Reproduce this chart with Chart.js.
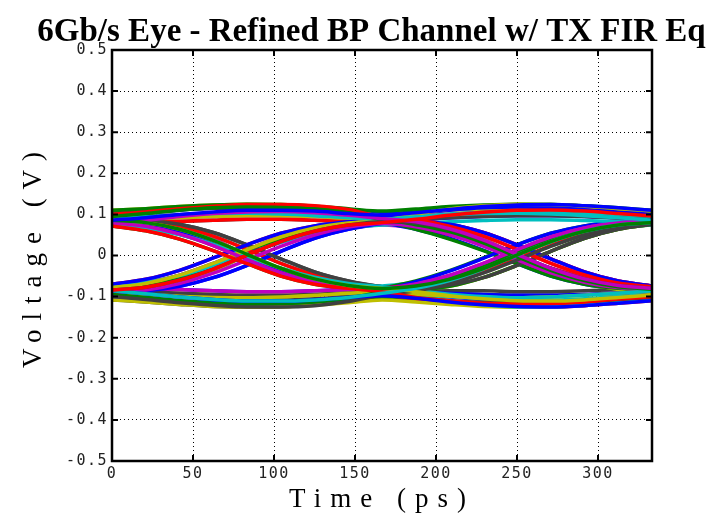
<!DOCTYPE html>
<html>
<head>
<meta charset="utf-8">
<script src="https://cdn.jsdelivr.net/npm/chart.js"></script>
<style>
  html, body { margin: 0; padding: 0; background: #fff; }
</style>
</head>
<body>
<canvas id="eye" width="712" height="523"></canvas>
<script>
// sample times across 2 UI (6Gb/s -> 166.67ps per UI)
const timePs = [0, 20.83, 41.67, 62.5, 83.33, 104.17, 125, 145.83, 166.67,
                187.5, 208.33, 229.17, 250, 270.83, 291.67, 312.5, 333.33];

// eye traces (volts)
const voltTraces = [
  [0.086,0.092,0.100,0.106,0.110,0.110,0.108,0.102,0.098,0.104,0.112,0.119,0.123,0.124,0.121,0.116,0.110],
  [0.086,0.080,0.064,0.037,0.003,-0.031,-0.057,-0.073,-0.080,-0.074,-0.058,-0.032,0.001,0.034,0.059,0.074,0.080],
  [-0.084,-0.077,-0.060,-0.033,0.001,0.034,0.059,0.074,0.080,0.088,0.098,0.105,0.110,0.111,0.108,0.102,0.096],
  [-0.086,-0.093,-0.101,-0.107,-0.111,-0.111,-0.108,-0.102,-0.092,-0.080,-0.061,-0.033,0.001,0.034,0.059,0.074,0.080],
  [0.080,0.086,0.095,0.102,0.106,0.107,0.104,0.098,0.090,0.082,0.065,0.038,0.003,-0.031,-0.057,-0.073,-0.080],
  [0.086,0.080,0.064,0.037,0.003,-0.031,-0.057,-0.073,-0.080,-0.088,-0.098,-0.105,-0.110,-0.111,-0.108,-0.102,-0.096],
  [-0.084,-0.077,-0.060,-0.033,0.001,0.034,0.059,0.074,0.082,0.079,0.064,0.037,0.003,-0.031,-0.057,-0.073,-0.080],
  [-0.086,-0.093,-0.101,-0.107,-0.111,-0.111,-0.108,-0.102,-0.098,-0.104,-0.113,-0.120,-0.124,-0.125,-0.122,-0.116,-0.110],
  [0.095,0.102,0.110,0.116,0.118,0.117,0.113,0.104,0.088,0.075,0.058,0.031,-0.003,-0.036,-0.061,-0.076,-0.082],
  [0.072,0.060,0.040,0.012,-0.020,-0.050,-0.070,-0.080,-0.088,-0.102,-0.110,-0.116,-0.118,-0.117,-0.113,-0.106,-0.100],
  [0.092,0.095,0.099,0.102,0.103,0.101,0.097,0.092,0.089,0.094,0.099,0.102,0.103,0.101,0.097,0.092,0.086],
  [0.080,0.071,0.052,0.024,-0.010,-0.042,-0.065,-0.078,-0.082,-0.070,-0.049,-0.019,0.014,0.045,0.067,0.079,0.084],
  [-0.078,-0.068,-0.048,-0.019,0.014,0.045,0.067,0.079,0.086,0.100,0.113,0.121,0.125,0.124,0.120,0.114,0.108],
  [-0.100,-0.107,-0.115,-0.121,-0.125,-0.125,-0.122,-0.112,-0.096,-0.086,-0.069,-0.043,-0.011,0.022,0.050,0.069,0.077],
  [-0.070,-0.058,-0.036,-0.006,0.026,0.054,0.072,0.082,0.090,0.102,0.110,0.116,0.118,0.117,0.113,0.106,0.100],
  [-0.095,-0.102,-0.110,-0.116,-0.118,-0.117,-0.113,-0.104,-0.088,-0.074,-0.056,-0.028,0.006,0.039,0.062,0.076,0.082],
  [0.100,0.106,0.114,0.120,0.124,0.124,0.121,0.112,0.094,0.087,0.071,0.047,0.015,-0.019,-0.047,-0.067,-0.076],
  [0.074,0.067,0.051,0.027,-0.003,-0.031,-0.053,-0.068,-0.076,-0.086,-0.094,-0.100,-0.103,-0.101,-0.097,-0.092,-0.086],
  [-0.090,-0.084,-0.068,-0.043,-0.011,0.022,0.050,0.069,0.078,0.070,0.051,0.023,-0.010,-0.042,-0.065,-0.078,-0.084],
  [-0.092,-0.095,-0.099,-0.102,-0.103,-0.101,-0.097,-0.092,-0.089,-0.094,-0.099,-0.102,-0.103,-0.101,-0.097,-0.092,-0.086],
  [0.090,0.086,0.076,0.056,0.026,-0.008,-0.040,-0.062,-0.076,-0.080,-0.072,-0.054,-0.024,0.010,0.042,0.064,0.076],
  [-0.090,-0.086,-0.075,-0.054,-0.024,0.010,0.042,0.064,0.078,0.082,0.076,0.056,0.026,-0.008,-0.040,-0.062,-0.074],
  [0.110,0.114,0.119,0.123,0.125,0.124,0.120,0.114,0.108,0.113,0.119,0.123,0.125,0.124,0.120,0.114,0.108],
  [0.092,0.086,0.071,0.047,0.015,-0.019,-0.047,-0.067,-0.078,-0.076,-0.063,-0.040,-0.009,0.024,0.051,0.069,0.077],
  [-0.072,-0.065,-0.049,-0.025,0.004,0.032,0.054,0.068,0.074,0.078,0.082,0.085,0.087,0.087,0.085,0.082,0.079],
  [-0.078,-0.080,-0.083,-0.086,-0.088,-0.088,-0.086,-0.083,-0.079,-0.069,-0.048,-0.019,0.014,0.045,0.067,0.079,0.084],
  [0.084,0.088,0.092,0.095,0.097,0.097,0.095,0.091,0.092,0.102,0.110,0.114,0.116,0.115,0.112,0.107,0.102],
  [-0.084,-0.088,-0.092,-0.095,-0.097,-0.097,-0.095,-0.091,-0.092,-0.102,-0.110,-0.114,-0.116,-0.115,-0.112,-0.107,-0.102],
  [0.082,0.075,0.058,0.031,-0.003,-0.036,-0.061,-0.076,-0.080,-0.064,-0.038,-0.007,0.026,0.054,0.072,0.082,0.086],
  [-0.082,-0.074,-0.056,-0.028,0.006,0.039,0.062,0.076,0.080,0.064,0.040,0.012,-0.020,-0.050,-0.070,-0.080,-0.084],
  [0.078,0.080,0.083,0.086,0.088,0.088,0.086,0.083,0.080,0.071,0.052,0.024,-0.010,-0.042,-0.065,-0.078,-0.084],
  [0.092,0.086,0.071,0.047,0.015,-0.019,-0.047,-0.067,-0.078,-0.094,-0.110,-0.120,-0.125,-0.125,-0.121,-0.115,-0.108],
  [-0.078,-0.068,-0.048,-0.019,0.014,0.045,0.067,0.079,0.086,0.084,0.070,0.047,0.015,-0.019,-0.047,-0.067,-0.076],
  [-0.108,-0.113,-0.119,-0.124,-0.126,-0.125,-0.121,-0.115,-0.108,-0.113,-0.119,-0.124,-0.126,-0.125,-0.121,-0.115,-0.108],
  [0.104,0.108,0.112,0.115,0.116,0.115,0.112,0.105,0.094,0.090,0.092,0.095,0.097,0.097,0.095,0.091,0.087],
  [-0.104,-0.108,-0.112,-0.115,-0.116,-0.115,-0.112,-0.105,-0.094,-0.090,-0.092,-0.095,-0.097,-0.097,-0.095,-0.091,-0.087],
  [0.072,0.060,0.040,0.012,-0.020,-0.050,-0.070,-0.080,-0.086,-0.084,-0.075,-0.054,-0.024,0.010,0.042,0.064,0.076],
  [-0.070,-0.058,-0.036,-0.006,0.026,0.054,0.072,0.082,0.088,0.086,0.076,0.056,0.026,-0.008,-0.040,-0.062,-0.074],
  [0.080,0.086,0.095,0.102,0.106,0.107,0.104,0.098,0.092,0.095,0.101,0.105,0.107,0.106,0.102,0.097,0.091],
  [0.096,0.089,0.070,0.040,0.000,-0.038,-0.066,-0.083,-0.090,-0.086,-0.068,-0.038,0.002,0.040,0.067,0.084,0.090],
  [-0.095,-0.088,-0.069,-0.038,0.002,0.040,0.067,0.084,0.092,0.088,0.070,0.040,0.000,-0.038,-0.066,-0.083,-0.090],
  [-0.080,-0.087,-0.096,-0.103,-0.107,-0.108,-0.105,-0.099,-0.092,-0.088,-0.086,-0.086,-0.088,-0.088,-0.086,-0.083,-0.080],
  [0.104,0.108,0.112,0.115,0.116,0.115,0.110,0.098,0.080,0.064,0.042,0.013,-0.020,-0.050,-0.070,-0.080,-0.084],
  [-0.104,-0.108,-0.112,-0.115,-0.116,-0.115,-0.110,-0.098,-0.080,-0.062,-0.037,-0.006,0.026,0.054,0.072,0.082,0.086],
  [0.092,0.095,0.099,0.102,0.103,0.101,0.097,0.090,0.080,0.068,0.051,0.027,-0.003,-0.031,-0.053,-0.068,-0.074],
  [0.074,0.067,0.051,0.027,-0.003,-0.031,-0.053,-0.068,-0.074,-0.065,-0.049,-0.025,0.004,0.032,0.054,0.068,0.074],
  [-0.072,-0.065,-0.049,-0.025,0.004,0.032,0.054,0.068,0.074,0.067,0.051,0.027,-0.003,-0.031,-0.053,-0.068,-0.074],
  [-0.092,-0.095,-0.099,-0.102,-0.103,-0.101,-0.097,-0.090,-0.080,-0.068,-0.050,-0.025,0.004,0.032,0.054,0.068,0.074],
  [0.090,0.086,0.076,0.056,0.026,-0.008,-0.040,-0.062,-0.076,-0.085,-0.091,-0.095,-0.097,-0.097,-0.095,-0.091,-0.087],
  [-0.090,-0.086,-0.075,-0.054,-0.024,0.010,0.042,0.064,0.076,0.085,0.091,0.095,0.097,0.097,0.095,0.091,0.087],
  [-0.095,-0.088,-0.069,-0.038,0.002,0.040,0.067,0.084,0.094,0.106,0.114,0.120,0.124,0.124,0.121,0.116,0.110],
  [0.096,0.089,0.070,0.040,0.000,-0.038,-0.066,-0.083,-0.094,-0.106,-0.115,-0.121,-0.125,-0.125,-0.122,-0.116,-0.110],
  [0.082,0.075,0.058,0.031,-0.003,-0.036,-0.061,-0.076,-0.084,-0.092,-0.100,-0.105,-0.108,-0.108,-0.105,-0.099,-0.092],
  [-0.082,-0.074,-0.056,-0.028,0.006,0.039,0.062,0.076,0.084,0.092,0.100,0.105,0.108,0.108,0.105,0.099,0.092],
  [0.110,0.114,0.119,0.123,0.125,0.124,0.118,0.108,0.096,0.089,0.070,0.040,0.000,-0.038,-0.066,-0.083,-0.090],
  [-0.108,-0.113,-0.119,-0.124,-0.126,-0.125,-0.119,-0.108,-0.096,-0.088,-0.069,-0.038,0.002,0.040,0.067,0.084,0.090],
  [0.095,0.102,0.110,0.116,0.118,0.117,0.113,0.106,0.102,0.106,0.112,0.117,0.119,0.118,0.114,0.107,0.101],
  [-0.095,-0.102,-0.110,-0.116,-0.118,-0.117,-0.113,-0.106,-0.102,-0.106,-0.112,-0.117,-0.119,-0.118,-0.114,-0.107,-0.101],
  [0.080,0.071,0.052,0.024,-0.010,-0.042,-0.065,-0.078,-0.084,-0.077,-0.060,-0.033,0.001,0.034,0.059,0.074,0.080],
  [-0.078,-0.068,-0.048,-0.019,0.014,0.045,0.067,0.079,0.084,0.080,0.064,0.037,0.003,-0.031,-0.057,-0.073,-0.080],
  [0.084,0.088,0.092,0.095,0.097,0.097,0.095,0.092,0.088,0.084,0.076,0.056,0.026,-0.008,-0.040,-0.062,-0.074],
  [-0.084,-0.088,-0.092,-0.095,-0.097,-0.097,-0.095,-0.092,-0.088,-0.084,-0.075,-0.054,-0.024,0.010,0.042,0.064,0.076],
  [0.078,0.080,0.083,0.086,0.088,0.088,0.086,0.083,0.084,0.092,0.100,0.106,0.110,0.110,0.108,0.102,0.096],
  [-0.078,-0.080,-0.083,-0.086,-0.088,-0.088,-0.086,-0.083,-0.084,-0.093,-0.101,-0.107,-0.111,-0.111,-0.108,-0.102,-0.096]
];

const timeTicks = [0, 50, 100, 150, 200, 250, 300];
const timeLabels = ['0', '50', '100', '150', '200', '250', '300'];
const voltTicks = [-0.5, -0.4, -0.3, -0.2, -0.1, 0, 0.1, 0.2, 0.3, 0.4, 0.5];
const voltLabels = ['-0.5', '-0.4', '-0.3', '-0.2', '-0.1', '0', '0.1', '0.2', '0.3', '0.4', '0.5'];

// matlab default line colors
const lineColors = ['#0000ff', '#008000', '#ff0000', '#00bfbf', '#bf00bf', '#bfbf00', '#404040'];

const titleText = '6Gb/s Eye - Refined BP Channel w/ TX FIR Eq';

// matlab look: spaced-out labels, boxed axes with inward ticks
const matlabAxes = {
  id: 'matlabAxes',
  beforeDraw(chart) {
    const ctx = chart.ctx;
    if (!ctx._spaced) {
      const fill = ctx.fillText;
      ctx.fillText = function (t, x, y, w) {
        const f = this.font;
        if (f.indexOf('Mono') >= 0) this.letterSpacing = '1.5px';
        else if (f.indexOf('27px') >= 0) this.letterSpacing = '9px';
        else this.letterSpacing = '0px';
        return w === undefined ? fill.call(this, t, x, y) : fill.call(this, t, x, y, w);
      };
      ctx._spaced = true;
    }
  },
  afterDatasetsDraw(chart) {
    const { ctx, chartArea: a, scales: { x, y } } = chart;
    ctx.save();
    ctx.strokeStyle = '#000';
    ctx.lineWidth = 2;
    ctx.beginPath();
    x.ticks.forEach(t => {
      const px = x.getPixelForValue(t.value);
      ctx.moveTo(px, a.bottom); ctx.lineTo(px, a.bottom - 6);
      ctx.moveTo(px, a.top); ctx.lineTo(px, a.top + 6);
    });
    y.ticks.forEach(t => {
      const py = y.getPixelForValue(t.value);
      ctx.moveTo(a.left, py); ctx.lineTo(a.left + 6, py);
      ctx.moveTo(a.right, py); ctx.lineTo(a.right - 6, py);
    });
    ctx.stroke();
    ctx.lineWidth = 2.5;
    ctx.strokeRect(a.left, a.top, a.right - a.left, a.bottom - a.top);
    ctx.restore();
  },
  afterDraw(chart) {
    const ctx = chart.ctx;
    ctx.save();
    ctx.font = "bold 33px 'Liberation Serif', serif";
    ctx.fillStyle = '#000';
    ctx.textAlign = 'center';
    ctx.textBaseline = 'alphabetic';
    ctx.fillText(titleText, 371.5, 41);
    ctx.restore();
  }
};

new Chart(document.getElementById('eye'), {
  type: 'line',
  data: {
    datasets: voltTraces.map((tr, i) => ({
      data: tr.map((v, k) => ({ x: timePs[k], y: v })),
      borderColor: lineColors[i % lineColors.length],
      borderWidth: 3.5,
      pointRadius: 0,
      fill: false,
      cubicInterpolationMode: 'monotone'
    }))
  },
  options: {
    responsive: false,
    animation: false,
    devicePixelRatio: 1,
    layout: { padding: { left: 0, right: 60, top: 50, bottom: 0 } },
    plugins: { legend: { display: false }, tooltip: { enabled: false }, title: { display: false } },
    scales: {
      x: {
        type: 'linear',
        min: 0,
        max: 333.33,
        afterFit: s => { s.height = 62; },
        afterBuildTicks: s => { s.ticks = timeTicks.map(v => ({ value: v })); },
        ticks: {
          padding: 4,
          color: '#222',
          font: { family: "'DejaVu Sans Mono', monospace", size: 15 },
          callback: (v, i) => timeLabels[i]
        },
        grid: { color: '#000', lineWidth: 1, drawTicks: false },
        border: { display: false, dash: [1, 3] },
        title: {
          display: true,
          text: 'Time (ps)',
          color: '#000',
          font: { family: "'Liberation Serif', serif", size: 27 },
          padding: { top: 0, bottom: 7 }
        }
      },
      y: {
        type: 'linear',
        min: -0.5,
        max: 0.5,
        afterFit: s => { s.width = 112; },
        afterBuildTicks: s => { s.ticks = voltTicks.map(v => ({ value: v })); },
        ticks: {
          padding: 4,
          color: '#222',
          font: { family: "'DejaVu Sans Mono', monospace", size: 15 },
          callback: (v, i) => voltLabels[i]
        },
        grid: { color: '#000', lineWidth: 1, drawTicks: false },
        border: { display: false, dash: [1, 3] },
        title: {
          display: true,
          text: 'Voltage (V)',
          color: '#000',
          font: { family: "'Liberation Serif', serif", size: 27 },
          padding: { top: 18, bottom: 0 }
        }
      }
    }
  },
  plugins: [matlabAxes]
});
</script>
</body>
</html>
